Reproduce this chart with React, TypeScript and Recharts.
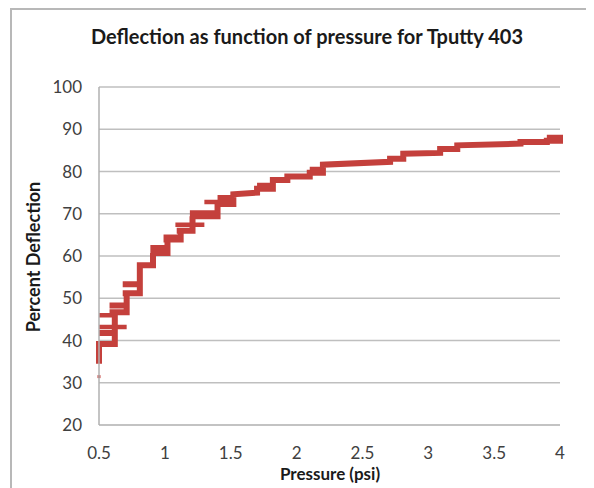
import { LineChart, Line, XAxis, YAxis, CartesianGrid } from "recharts"

// staircase trace of the measured curve (pressure in psi, deflection in %)
const pathPressure = [
  0.5, 0.5, 0.62, 0.62, 0.5, 0.62,
  0.62, 0.58, 0.71, 0.71, 0.58, 0.71,
  0.71, 0.68, 0.81, 0.81, 0.68, 0.81,
  0.81, 0.91,
  0.91, 0.89, 1.02, 1.02, 0.89, 1.02,
  1.02, 0.99, 1.12, 1.12, 0.99, 1.12,
  1.12, 1.09, 1.21,
  1.21, 1.19, 1.4, 1.4, 1.19, 1.4,
  1.4, 1.52, 1.52, 1.4, 1.52,
  1.52, 1.7,
  1.7, 1.82, 1.82, 1.7, 1.82,
  1.82, 1.93,
  1.93, 2.1,
  2.1, 2.2, 2.2, 2.1, 2.2,
  2.2, 2.71,
  2.71, 2.81,
  2.81, 3.09,
  3.09, 3.22,
  3.22, 3.7,
  3.7, 3.9,
  3.9, 4.0, 4.0, 3.9, 4.0,
]
const pathDeflection = [
  34.5, 39.2, 39.2, 41.8, 41.8, 41.8,
  46.7, 46.7, 46.7, 48.3, 48.3, 48.3,
  51.2, 51.2, 51.2, 53.3, 53.3, 53.3,
  57.8, 57.8,
  60.7, 60.7, 60.7, 61.9, 61.9, 61.9,
  63.9, 63.9, 63.9, 64.4, 64.4, 64.4,
  66, 66, 66,
  69.4, 69.4, 69.4, 70.1, 70.1, 70.1,
  72.3, 72.3, 73.7, 73.7, 73.7,
  74.6, 75,
  75.9, 75.9, 76.6, 76.6, 76.6,
  78, 78,
  78.8, 78.8,
  79.7, 79.7, 80.4, 80.4, 80.4,
  81.6, 82.3,
  83, 83,
  84.2, 84.4,
  85.3, 85.3,
  86.2, 86.6,
  87, 87,
  87.3, 87.3, 88, 88, 88,
]

// short loose segments beside the main trace
const strayFrom = [0.5, 0.5, 1.08, 1.3]
const strayTo = [0.71, 0.6, 1.3, 1.45]
const strayLevel = [43.2, 46, 67.4, 72.8]

const tailPressure = [0.5, 0.5]
const tailDeflection = [31.1, 31.8]

const xTicks = [0.5, 1, 1.5, 2, 2.5, 3, 3.5, 4]
const yTicks = [20, 30, 40, 50, 60, 70, 80, 90, 100]

const RED = "#c4403c"
const FONT = "Lato, 'Open Sans', sans-serif"

const mainData = pathPressure.map((p, i) => ({ p, d: pathDeflection[i] }))
const strayData = strayFrom.flatMap((from, i) => [
  { p: from, d: strayLevel[i] },
  { p: strayTo[i], d: strayLevel[i] },
  { p: strayTo[i], d: null },
])
const tailData = tailPressure.map((p, i) => ({ p, d: tailDeflection[i] }))

export default function App() {
  return (
    <div style={{ position: "relative", width: 584, height: 480, marginLeft: 2, overflow: "hidden", fontFamily: FONT }}>
      <div
        style={{
          position: "absolute",
          left: 0,
          top: 0,
          width: 600,
          height: 500,
          borderLeft: "2px solid #b8b8b8",
          borderTop: "2px solid #b8b8b8",
        }}
      />
      <div
        style={{
          position: "absolute",
          left: 0,
          width: 594,
          top: 16,
          textAlign: "center",
          fontWeight: 700,
          fontSize: 20,
          color: "#1a1a1a",
        }}
      >
        Deflection as function of pressure for Tputty 403
      </div>
      <div
        style={{
          position: "absolute",
          left: 23,
          top: 249,
          transform: "translate(-50%, -50%) rotate(-90deg)",
          whiteSpace: "nowrap",
          fontWeight: 700,
          fontSize: 18,
          color: "#1a1a1a",
        }}
      >
        Percent Deflection
      </div>
      <div
        style={{
          position: "absolute",
          left: 320,
          top: 466,
          transform: "translate(-50%, -50%)",
          whiteSpace: "nowrap",
          fontWeight: 700,
          fontSize: 17,
          lineHeight: "20px",
          color: "#1a1a1a",
        }}
      >
        Pressure (psi)
      </div>
      <LineChart
        width={584}
        height={480}
        margin={{ top: 79, right: 34, bottom: 13, left: 5 }}
        style={{ position: "absolute", left: 0, top: 0 }}
      >
        <CartesianGrid vertical={false} stroke="#bfbfbf" strokeWidth={1.5} />
        <XAxis
          type="number"
          dataKey="p"
          domain={[0.5, 4]}
          ticks={xTicks}
          height={50}
          tickLine={false}
          tickMargin={16}
          axisLine={{ stroke: "#bfbfbf", strokeWidth: 1.5 }}
          tick={{ fill: "#404040", fontSize: 17, fontFamily: FONT }}
        />
        <YAxis
          type="number"
          domain={[20, 100]}
          ticks={yTicks}
          width={84}
          tickLine={false}
          tickMargin={11}
          axisLine={{ stroke: "#b0b0b0", strokeWidth: 1.5 }}
          tick={{ fill: "#404040", fontSize: 17, fontFamily: FONT }}
        />
        <Line data={tailData} dataKey="d" stroke={RED} strokeWidth={3} dot={false} isAnimationActive={false} />
        <Line
          data={strayData}
          dataKey="d"
          stroke={RED}
          strokeWidth={4.5}
          dot={false}
          connectNulls={false}
          isAnimationActive={false}
        />
        <Line
          data={mainData}
          dataKey="d"
          stroke={RED}
          strokeWidth={6}
          strokeLinejoin="miter"
          dot={false}
          isAnimationActive={false}
        />
      </LineChart>
    </div>
  )
}
